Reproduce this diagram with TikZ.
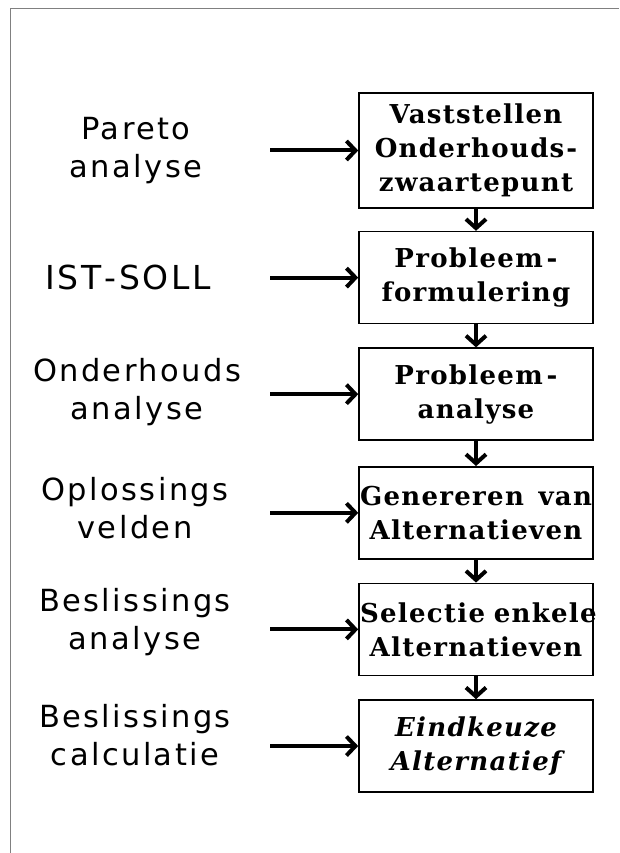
\documentclass[tikz,border=0pt]{standalone}
\usepackage{fontspec}
\usetikzlibrary{arrows.meta,positioning}
\newfontfamily\labelfont[LetterSpace=8]{DejaVu Sans}
\newfontfamily\stepfont[LetterSpace=5]{DejaVu Serif}
\begin{document}
\begin{tikzpicture}[x=1pt,y=-1pt,
    stepbox/.style={draw, line width=1.6pt, minimum width=234pt, minimum height=92pt,
      text width=234pt, inner xsep=0pt, inner ysep=0pt, align=center,
      font=\stepfont\bfseries\fontsize{26}{34}\selectfont},
    source/.style={align=center, font=\labelfont\fontsize{30.5}{38}\selectfont},
    feed/.style={line width=4pt, -{Straight Barb[length=9pt,width=19pt]}},
    drop/.style={line width=4pt, -{Straight Barb[length=9pt,width=20pt]}}]
    \useasboundingbox (0,0) rectangle (619,853);
    \draw[gray, line width=0.8pt] (10,853) -- (10,8) -- (619,8);
    \node[stepbox, minimum height=115pt] (vast) at (476,150.5) {Vaststellen\\Onderhouds\kern2pt-\\zwaartepunt};
    \node[stepbox, below=22pt of vast] (form) {Probleem\kern4pt-\\formulering};
    \node[stepbox, below=23pt of form] (anal) {Probleem\kern4pt-\\analyse};
    \node[stepbox, below=25pt of anal] (gen) {\makebox[232pt][s]{Genereren\hfill\ van}\\Alternatieven};
    \node[stepbox, below=23pt of gen] (sel) {\makebox[232pt][s]{Selectie\hfill\ enkele}\\Alternatieven};
    \node[stepbox, below=23pt of sel, font=\stepfont\bfseries\itshape\fontsize{26}{34}\selectfont] (eind) {Eindkeuze\\Alternatief};
    \node[source] (pareto) at (136,151) {Pareto\\analyse};
    \node[source, font=\labelfont\fontsize{33}{38}\selectfont] (istsoll) at (128,277) {IST\kern3pt-\kern3pt SOLL};
    \node[source] (onder) at (137,392) {Onderhouds\\analyse};
    \node[source] (oplos) at (135,508) {Oplossings\\velden};
    \node[source] (beslan) at (135,622) {Beslissings\\analyse};
    \node[source] (beslcalc) at (135,735) {Beslissings\\calculatie};
    \draw[drop] (vast) -- (form);
    \draw[drop] (form) -- (anal);
    \draw[drop] (anal) -- (gen);
    \draw[drop] (gen) -- (sel);
    \draw[drop] (sel) -- (eind);
    \foreach \stage in {vast,form,anal,gen,sel,eind}
      \draw[feed] ([xshift=-88pt]\stage.west) -- (\stage.west);
  \end{tikzpicture}
\end{document}
